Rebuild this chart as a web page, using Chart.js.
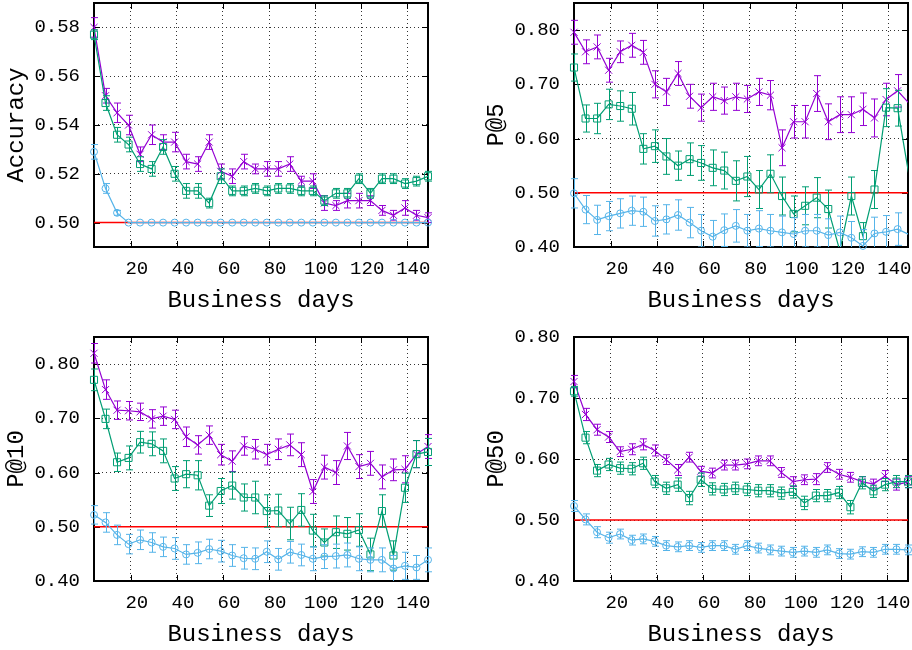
<!DOCTYPE html>
<html>
<head>
<meta charset="utf-8">
<script src="https://cdn.jsdelivr.net/npm/chart.js@4.4.1/dist/chart.umd.min.js"></script>
<style>
  body { margin: 0; background: #fff; }
  .panel { position: absolute; width: 432px; }
</style>
</head>
<body>
<div class="panel" style="left:0;top:0"><canvas id="accChart" width="432" height="316"></canvas></div>
<div class="panel" style="left:480px;top:0"><canvas id="p5Chart" width="432" height="316"></canvas></div>
<div class="panel" style="left:0;top:324px"><canvas id="p10Chart" width="432" height="326"></canvas></div>
<div class="panel" style="left:480px;top:324px"><canvas id="p50Chart" width="432" height="326"></canvas></div>
<script>
// business days sampled every 5 days
const days = [4, 9, 14, 19, 24, 29, 34, 39, 44, 49, 54, 59, 64, 69, 74, 79, 84, 89, 94, 99, 104, 109, 114, 119, 124, 129, 134, 139, 144, 149];
const xTicks = [20, 40, 60, 80, 100, 120, 140];
const baseline = 0.5;

// Accuracy
const accViolet = [0.580, 0.552, 0.545, 0.540, 0.528, 0.536, 0.533, 0.533, 0.525, 0.524, 0.533, 0.521, 0.519, 0.525, 0.522, 0.522, 0.522, 0.524, 0.517, 0.517, 0.508, 0.507, 0.509, 0.509, 0.509, 0.505, 0.503, 0.506, 0.503, 0.502];
const accVioletErr = [0.004, 0.003, 0.004, 0.004, 0.003, 0.004, 0.003, 0.004, 0.003, 0.003, 0.003, 0.003, 0.003, 0.003, 0.002, 0.003, 0.003, 0.003, 0.002, 0.003, 0.003, 0.002, 0.003, 0.003, 0.002, 0.002, 0.002, 0.003, 0.002, 0.002];
const accGreen = [0.577, 0.549, 0.536, 0.532, 0.524, 0.522, 0.531, 0.520, 0.513, 0.513, 0.508, 0.519, 0.513, 0.513, 0.514, 0.513, 0.514, 0.514, 0.513, 0.513, 0.509, 0.512, 0.512, 0.518, 0.512, 0.518, 0.518, 0.516, 0.517, 0.519];
const accGreenErr = [0.002, 0.003, 0.003, 0.003, 0.003, 0.003, 0.003, 0.003, 0.003, 0.003, 0.002, 0.003, 0.002, 0.002, 0.002, 0.002, 0.002, 0.002, 0.002, 0.002, 0.002, 0.002, 0.002, 0.002, 0.002, 0.002, 0.002, 0.002, 0.002, 0.002];
const accBlue = [0.529, 0.514, 0.504, 0.500, 0.500, 0.500, 0.500, 0.500, 0.500, 0.500, 0.500, 0.500, 0.500, 0.500, 0.500, 0.500, 0.500, 0.500, 0.500, 0.500, 0.500, 0.500, 0.500, 0.500, 0.500, 0.500, 0.500, 0.500, 0.500, 0.500];
const accBlueErr = [0.003, 0.002, 0.001, 0, 0, 0, 0, 0, 0, 0, 0, 0, 0, 0, 0, 0, 0, 0, 0, 0, 0, 0, 0, 0, 0, 0, 0, 0, 0, 0];

// P@5
const p5Violet = [0.796, 0.760, 0.769, 0.726, 0.760, 0.772, 0.759, 0.700, 0.686, 0.720, 0.678, 0.657, 0.677, 0.670, 0.677, 0.673, 0.686, 0.680, 0.583, 0.631, 0.631, 0.683, 0.631, 0.644, 0.644, 0.654, 0.638, 0.672, 0.688, 0.665];
const p5VioletErr = [0.022, 0.022, 0.022, 0.022, 0.020, 0.022, 0.022, 0.025, 0.025, 0.022, 0.022, 0.025, 0.025, 0.025, 0.025, 0.025, 0.025, 0.027, 0.033, 0.030, 0.030, 0.033, 0.033, 0.033, 0.033, 0.030, 0.035, 0.030, 0.030, 0.030];
const p5Green = [0.731, 0.637, 0.637, 0.663, 0.660, 0.655, 0.581, 0.586, 0.567, 0.550, 0.562, 0.555, 0.546, 0.541, 0.522, 0.530, 0.506, 0.535, 0.494, 0.461, 0.476, 0.491, 0.470, 0.393, 0.494, 0.420, 0.506, 0.657, 0.656, 0.530];
const p5GreenErr = [0.025, 0.025, 0.028, 0.028, 0.028, 0.030, 0.028, 0.030, 0.033, 0.027, 0.030, 0.032, 0.033, 0.034, 0.037, 0.037, 0.035, 0.035, 0.035, 0.033, 0.035, 0.037, 0.035, 0.035, 0.035, 0.025, 0.035, 0.035, 0.033, 0.033];
const p5Blue = [0.499, 0.469, 0.450, 0.457, 0.462, 0.467, 0.465, 0.448, 0.451, 0.459, 0.445, 0.430, 0.419, 0.431, 0.439, 0.430, 0.434, 0.430, 0.427, 0.424, 0.430, 0.430, 0.422, 0.427, 0.417, 0.402, 0.425, 0.428, 0.433, 0.423];
const p5BlueErr = [0.027, 0.026, 0.027, 0.027, 0.027, 0.027, 0.027, 0.028, 0.027, 0.028, 0.028, 0.030, 0.030, 0.030, 0.030, 0.030, 0.033, 0.030, 0.030, 0.030, 0.030, 0.030, 0.030, 0.030, 0.030, 0.030, 0.030, 0.030, 0.030, 0.030];

// P@10
const p10Violet = [0.820, 0.753, 0.715, 0.714, 0.712, 0.699, 0.704, 0.698, 0.666, 0.651, 0.669, 0.633, 0.621, 0.649, 0.643, 0.633, 0.643, 0.651, 0.633, 0.565, 0.610, 0.600, 0.649, 0.611, 0.617, 0.592, 0.605, 0.606, 0.634, 0.648];
const p10VioletErr = [0.018, 0.018, 0.017, 0.017, 0.016, 0.017, 0.017, 0.017, 0.018, 0.017, 0.017, 0.019, 0.019, 0.017, 0.018, 0.019, 0.019, 0.020, 0.022, 0.022, 0.022, 0.022, 0.025, 0.022, 0.022, 0.022, 0.020, 0.025, 0.025, 0.022];
const p10Green = [0.771, 0.699, 0.619, 0.627, 0.656, 0.653, 0.640, 0.589, 0.597, 0.595, 0.539, 0.566, 0.576, 0.554, 0.554, 0.529, 0.530, 0.506, 0.531, 0.493, 0.471, 0.490, 0.487, 0.494, 0.449, 0.529, 0.447, 0.572, 0.634, 0.638];
const p10GreenErr = [0.020, 0.018, 0.017, 0.022, 0.020, 0.022, 0.022, 0.022, 0.025, 0.027, 0.020, 0.023, 0.025, 0.025, 0.030, 0.030, 0.030, 0.030, 0.030, 0.030, 0.025, 0.030, 0.030, 0.030, 0.030, 0.030, 0.027, 0.027, 0.025, 0.025];
const p10Blue = [0.522, 0.508, 0.485, 0.468, 0.476, 0.471, 0.463, 0.460, 0.449, 0.452, 0.459, 0.455, 0.447, 0.442, 0.441, 0.454, 0.440, 0.453, 0.448, 0.441, 0.445, 0.446, 0.448, 0.441, 0.439, 0.439, 0.423, 0.428, 0.425, 0.439];
const p10BlueErr = [0.017, 0.018, 0.018, 0.018, 0.018, 0.018, 0.018, 0.020, 0.018, 0.020, 0.018, 0.020, 0.020, 0.020, 0.020, 0.020, 0.020, 0.020, 0.020, 0.022, 0.022, 0.022, 0.022, 0.022, 0.022, 0.022, 0.024, 0.025, 0.022, 0.022];

// P@50
const p50Violet = [0.727, 0.673, 0.648, 0.636, 0.612, 0.616, 0.624, 0.614, 0.599, 0.582, 0.603, 0.580, 0.577, 0.590, 0.590, 0.592, 0.597, 0.597, 0.578, 0.563, 0.566, 0.567, 0.586, 0.575, 0.570, 0.563, 0.559, 0.572, 0.558, 0.562];
const p50VioletErr = [0.010, 0.010, 0.009, 0.009, 0.008, 0.009, 0.009, 0.009, 0.008, 0.009, 0.008, 0.008, 0.008, 0.008, 0.008, 0.008, 0.008, 0.008, 0.008, 0.008, 0.008, 0.009, 0.008, 0.008, 0.008, 0.008, 0.008, 0.009, 0.009, 0.009];
const p50Green = [0.711, 0.635, 0.581, 0.591, 0.585, 0.584, 0.593, 0.563, 0.552, 0.558, 0.536, 0.566, 0.551, 0.550, 0.552, 0.550, 0.548, 0.548, 0.544, 0.546, 0.528, 0.540, 0.540, 0.545, 0.521, 0.561, 0.547, 0.558, 0.563, 0.563];
const p50GreenErr = [0.008, 0.010, 0.010, 0.010, 0.010, 0.010, 0.010, 0.010, 0.010, 0.011, 0.011, 0.011, 0.010, 0.010, 0.010, 0.010, 0.010, 0.010, 0.010, 0.010, 0.011, 0.010, 0.010, 0.010, 0.011, 0.010, 0.010, 0.010, 0.010, 0.010];
const p50Blue = [0.523, 0.501, 0.480, 0.471, 0.477, 0.467, 0.469, 0.465, 0.458, 0.456, 0.458, 0.455, 0.458, 0.458, 0.452, 0.458, 0.454, 0.451, 0.449, 0.447, 0.449, 0.447, 0.451, 0.445, 0.444, 0.448, 0.447, 0.452, 0.452, 0.451];
const p50BlueErr = [0.009, 0.009, 0.009, 0.009, 0.008, 0.008, 0.008, 0.008, 0.008, 0.008, 0.008, 0.008, 0.008, 0.008, 0.008, 0.008, 0.008, 0.008, 0.008, 0.008, 0.008, 0.008, 0.008, 0.008, 0.008, 0.008, 0.008, 0.008, 0.008, 0.008];

const VIOLET = "#9400d3";
const GREEN = "#009e73";
const BLUE = "#56b4e9";
const FONT = "'Liberation Mono', 'Courier New', monospace";

function inView(chart, p) {
    const x = chart.scales.x, y = chart.scales.y;
    return p.x >= x.min && p.x <= x.max && p.y >= y.min && p.y <= y.max;
}

// gnuplot-like box with inward tics on all four sides
const framePlugin = {
    id: "frame",
    beforeDatasetsDraw(chart) {
        const { ctx, chartArea: a, scales } = chart;
        ctx.save();
        ctx.strokeStyle = "#000";
        ctx.lineWidth = 1;
        ctx.beginPath();
        scales.x.ticks.forEach(t => {
            const px = Math.round(scales.x.getPixelForValue(t.value)) + 0.5;
            ctx.moveTo(px, a.top); ctx.lineTo(px, a.top + 6);
            ctx.moveTo(px, a.bottom); ctx.lineTo(px, a.bottom - 6);
        });
        scales.y.ticks.forEach(t => {
            const py = Math.round(scales.y.getPixelForValue(t.value)) + 0.5;
            ctx.moveTo(a.left, py); ctx.lineTo(a.left + 6, py);
            ctx.moveTo(a.right, py); ctx.lineTo(a.right - 6, py);
        });
        ctx.stroke();
        ctx.lineWidth = 2;
        ctx.strokeRect(a.left, a.top, a.right - a.left, a.bottom - a.top);
        ctx.restore();
    }
};

const errorBarPlugin = {
    id: "errorBars",
    afterDatasetDraw(chart, args) {
        const ds = chart.data.datasets[args.index];
        if (!ds.errors) return;
        const { ctx, chartArea: a } = chart;
        const yScale = chart.scales.y;
        ctx.save();
        ctx.beginPath();
        ctx.rect(a.left - 4, a.top, a.right - a.left + 8, a.bottom - a.top);
        ctx.clip();
        ctx.strokeStyle = ds.borderColor;
        ctx.lineWidth = 1;
        ctx.beginPath();
        args.meta.data.forEach((pt, i) => {
            const e = ds.errors[i];
            if (!e || !inView(chart, ds.data[i])) return;
            const v = ds.data[i].y;
            const top = yScale.getPixelForValue(v + e);
            const bot = yScale.getPixelForValue(v - e);
            const px = Math.round(pt.x) + 0.5;
            ctx.moveTo(px, top); ctx.lineTo(px, bot);
            ctx.moveTo(px - 3.5, top); ctx.lineTo(px + 3.5, top);
            ctx.moveTo(px - 3.5, bot); ctx.lineTo(px + 3.5, bot);
        });
        ctx.stroke();
        ctx.restore();
    }
};

function seriesDatasets(values, errors, color, style, radius) {
    const data = days.map((d, i) => ({ x: d, y: values[i] }));
    return [
        {
            data: data,
            errors: errors,
            showLine: false,
            borderColor: color,
            backgroundColor: "transparent",
            pointStyle: style,
            pointRadius: c => inView(c.chart, c.raw) ? radius : 0,
            pointBorderWidth: 1,
            pointBorderColor: color,
            pointBackgroundColor: "transparent",
            clip: 8
        },
        {
            data: data,
            borderColor: color,
            borderWidth: 1.2,
            pointRadius: 0,
            tension: 0,
            clip: 0
        }
    ];
}

function makePanel(canvasId, topPad, yLabel, yMin, yMax, yTicks, xMax, violet, violetErr, green, greenErr, blue, blueErr) {
    const ctx = document.getElementById(canvasId).getContext("2d");
    const datasets = [].concat(
        seriesDatasets(blue, blueErr, BLUE, "circle", 3.5),
        seriesDatasets(green, greenErr, GREEN, "rect", 5),
        seriesDatasets(violet, violetErr, VIOLET, "crossRot", 5),
        [{
            data: [{ x: days[0], y: baseline }, { x: days[days.length - 1], y: baseline }],
            borderColor: "#ff0000",
            borderWidth: 1.5,
            pointRadius: 0,
            clip: 0
        }]
    );

    new Chart(ctx, {
        type: "line",
        data: { datasets: datasets },
        options: {
            responsive: false,
            animation: false,
            events: [],
            layout: { autoPadding: false, padding: { left: 0, right: 4, top: topPad, bottom: 0 } },
            plugins: { legend: { display: false }, tooltip: { enabled: false } },
            scales: {
                x: {
                    type: "linear",
                    min: 4,
                    max: xMax,
                    afterBuildTicks: s => { s.ticks = xTicks.map(v => ({ value: v })); },
                    afterFit: s => {
                        s.height = 69;
                        s.paddingLeft = 0; s.paddingRight = 0;
                    },
                    grid: { color: "#333", lineWidth: 1, drawTicks: false },
                    border: { display: false, dash: [1, 3] },
                    ticks: {
                        color: "#000",
                        padding: 11,
                        labelOffset: 6,
                        maxRotation: 0,
                        font: { family: FONT, size: 19 },
                        callback: v => String(v)
                    },
                    title: {
                        display: true,
                        text: "Business days",
                        color: "#000",
                        font: { family: FONT, size: 24 },
                        padding: { top: 0, bottom: 1 }
                    }
                },
                y: {
                    min: yMin,
                    max: yMax,
                    afterBuildTicks: s => { s.ticks = yTicks.map(v => ({ value: v })); },
                    afterFit: s => {
                        s.width = 94;
                        s.paddingTop = 0; s.paddingBottom = 0;
                    },
                    grid: { color: "#333", lineWidth: 1, drawTicks: false },
                    border: { display: false, dash: [1, 3] },
                    ticks: {
                        color: "#000",
                        padding: 14,
                        font: { family: FONT, size: 19 },
                        callback: v => v.toFixed(2)
                    },
                    title: {
                        display: true,
                        text: yLabel,
                        color: "#000",
                        font: { family: FONT, size: 24 },
                        padding: { top: 2, bottom: 0 }
                    }
                }
            }
        },
        plugins: [framePlugin, errorBarPlugin]
    });
}

makePanel("accChart", 3, "Accuracy", 0.49, 0.59, [0.50, 0.52, 0.54, 0.56, 0.58], 149,
    accViolet, accVioletErr, accGreen, accGreenErr, accBlue, accBlueErr);
makePanel("p5Chart", 3, "P@5", 0.40, 0.85, [0.40, 0.50, 0.60, 0.70, 0.80], 148.5,
    p5Violet, p5VioletErr, p5Green, p5GreenErr, p5Blue, p5BlueErr);
makePanel("p10Chart", 13, "P@10", 0.40, 0.85, [0.40, 0.50, 0.60, 0.70, 0.80], 149,
    p10Violet, p10VioletErr, p10Green, p10GreenErr, p10Blue, p10BlueErr);
makePanel("p50Chart", 13, "P@50", 0.40, 0.80, [0.40, 0.50, 0.60, 0.70, 0.80], 149,
    p50Violet, p50VioletErr, p50Green, p50GreenErr, p50Blue, p50BlueErr);
</script>
</body>
</html>
